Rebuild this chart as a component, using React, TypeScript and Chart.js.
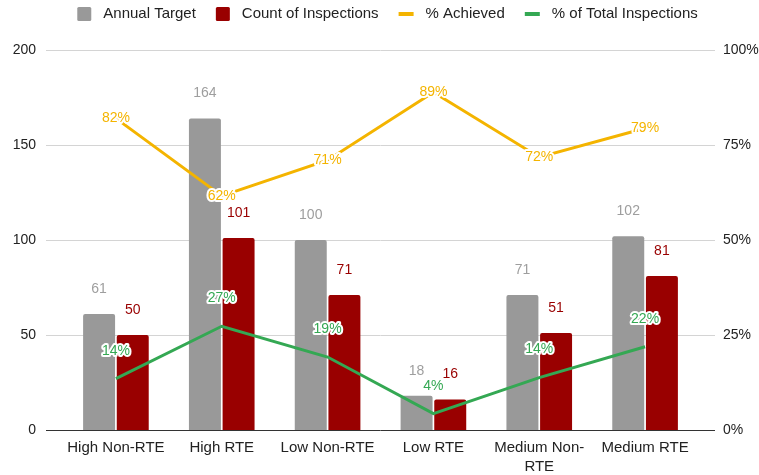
import React, { useEffect, useRef } from 'react';
import { Chart, registerables } from 'chart.js';

Chart.register(...registerables);

const categories: (string | string[])[] = [
  'High Non-RTE',
  'High RTE',
  'Low Non-RTE',
  'Low RTE',
  ['Medium Non-', 'RTE'],
  'Medium RTE',
];
const annualTarget = [61, 164, 100, 18, 71, 102];
const countOfInspections = [50, 101, 71, 16, 51, 81];
const pctAchieved = [82.0, 61.6, 71.0, 88.9, 71.8, 79.4];
const pctOfTotal = [13.5, 27.3, 19.2, 4.3, 13.8, 21.9];
const leftMax = 200;
const leftStep = 50;
const rightMax = 100;
const rightStep = 25;

const FONT = '"Liberation Sans", Arial, sans-serif';
const GRAY = '#999999';
const RED = '#990000';
const YELLOW = '#f4b400';
const GREEN = '#34a853';
const TEXT = '#222222';

const extGridPlugin = {
  id: 'extGrid',
  beforeDatasetsDraw(chart: any) {
    const { ctx, chartArea } = chart;
    const y = chart.scales.y;
    const ext = 17;
    ctx.save();
    y.ticks.forEach((t: any) => {
      const py = Math.round(y.getPixelForValue(t.value)) + 0.5;
      ctx.strokeStyle = t.value === 0 ? '#333333' : '#d4d4d4';
      ctx.lineWidth = 1;
      ctx.beginPath();
      ctx.moveTo(chartArea.left - ext, py);
      ctx.lineTo(chartArea.right + ext, py);
      ctx.stroke();
    });
    ctx.restore();
  },
};

const dataLabelPlugin = {
  id: 'dataLabels',
  afterDatasetsDraw(chart: any) {
    const { ctx } = chart;
    ctx.save();
    ctx.font = `14px ${FONT}`;
    ctx.textAlign = 'center';
    ctx.textBaseline = 'middle';
    chart.data.datasets.forEach((ds: any, i: number) => {
      const meta = chart.getDatasetMeta(i);
      meta.data.forEach((el: any, j: number) => {
        const v = ds.data[j];
        if (ds.type === 'bar') {
          ctx.fillStyle = ds.labelColor;
          ctx.fillText(String(v), el.x, el.y - 25);
        } else {
          const txt = Math.round(v) + '%';
          const ty = el.y + ds.labelOffset;
          ctx.lineWidth = 4;
          ctx.lineJoin = 'round';
          ctx.strokeStyle = '#ffffff';
          ctx.strokeText(txt, el.x, ty);
          ctx.fillStyle = ds.borderColor;
          ctx.fillText(txt, el.x, ty);
        }
      });
    });
    ctx.restore();
  },
};

const legendPlugin = {
  id: 'customLegend',
  afterDraw(chart: any) {
    const { ctx, chartArea } = chart;
    ctx.save();
    ctx.font = `15px ${FONT}`;
    ctx.textBaseline = 'middle';
    ctx.textAlign = 'left';
    const items = chart.data.datasets.map((ds: any) => ({
      label: ds.label,
      color: ds.type === 'bar' ? ds.backgroundColor : ds.borderColor,
      isBar: ds.type === 'bar',
      symW: ds.type === 'bar' ? 14 : 15,
      textW: ctx.measureText(ds.label).width,
    }));
    const symGap = 12;
    const itemGap = 20;
    let total = 0;
    items.forEach((it: any, k: number) => {
      total += it.symW + symGap + it.textW + (k < items.length - 1 ? itemGap : 0);
    });
    const cx = (chartArea.left + chartArea.right) / 2 + 7;
    let x = cx - total / 2;
    const cy = 14;
    items.forEach((it: any) => {
      ctx.fillStyle = it.color;
      if (it.isBar) {
        ctx.beginPath();
        ctx.roundRect(x, cy - 7, 14, 14, 1.5);
        ctx.fill();
      } else {
        ctx.fillRect(x, cy - 2, 15, 4);
      }
      x += it.symW + symGap;
      ctx.fillStyle = TEXT;
      ctx.fillText(it.label, x, cy);
      x += it.textW + itemGap;
    });
    ctx.restore();
  },
};

export default function App() {
  const canvasRef = useRef<HTMLCanvasElement | null>(null);

  useEffect(() => {
    if (!canvasRef.current) return;
    const chart = new Chart(canvasRef.current, {
      type: 'bar',
      data: {
        labels: categories,
        datasets: [
          {
            type: 'bar',
            label: 'Annual Target',
            data: annualTarget,
            backgroundColor: GRAY,
            labelColor: '#9e9e9e',
            borderRadius: { topLeft: 2, topRight: 2, bottomLeft: 0, bottomRight: 0 },
            borderSkipped: 'bottom',
            yAxisID: 'y',
            order: 2,
            categoryPercentage: 0.636,
            barPercentage: 0.95,
          } as any,
          {
            type: 'bar',
            label: 'Count of Inspections',
            data: countOfInspections,
            backgroundColor: RED,
            labelColor: RED,
            borderRadius: { topLeft: 2, topRight: 2, bottomLeft: 0, bottomRight: 0 },
            borderSkipped: 'bottom',
            yAxisID: 'y',
            order: 2,
            categoryPercentage: 0.636,
            barPercentage: 0.95,
          } as any,
          {
            type: 'line',
            label: '% Achieved',
            data: pctAchieved,
            borderColor: YELLOW,
            backgroundColor: YELLOW,
            borderWidth: 3,
            pointRadius: 0,
            tension: 0,
            yAxisID: 'y1',
            order: 1,
            labelOffset: 0,
          } as any,
          {
            type: 'line',
            label: '% of Total Inspections',
            data: pctOfTotal,
            borderColor: GREEN,
            backgroundColor: GREEN,
            borderWidth: 3,
            pointRadius: 0,
            tension: 0,
            yAxisID: 'y1',
            order: 0,
            labelOffset: -28,
          } as any,
        ],
      },
      options: {
        responsive: false,
        animation: false,
        layout: { padding: { top: 50, left: 0, right: 0, bottom: 0 } },
        plugins: {
          legend: { display: false },
          tooltip: { enabled: false },
        },
        scales: {
          x: {
            grid: { display: false, drawTicks: false },
            border: { display: false },
            ticks: {
              color: TEXT,
              font: { family: FONT, size: 15, lineHeight: 1.24 },
              padding: 9,
              maxRotation: 0,
              autoSkip: false,
            },
            afterFit(scale: any) {
              scale.height = 45;
            },
          },
          y: {
            position: 'left',
            min: 0,
            max: leftMax,
            grid: { display: false, drawTicks: false },
            border: { display: false },
            ticks: {
              stepSize: leftStep,
              color: TEXT,
              font: { family: FONT, size: 14 },
              padding: 27,
            },
            afterFit(scale: any) {
              scale.width = 63;
            },
          },
          y1: {
            position: 'right',
            min: 0,
            max: rightMax,
            grid: { display: false, drawTicks: false },
            border: { display: false },
            ticks: {
              stepSize: rightStep,
              color: TEXT,
              font: { family: FONT, size: 14 },
              padding: 25,
              callback: (v: any) => v + '%',
            },
            afterFit(scale: any) {
              scale.width = 61;
            },
          },
        },
      } as any,
      plugins: [extGridPlugin, dataLabelPlugin, legendPlugin],
    });
    return () => chart.destroy();
  }, []);

  return (
    <div style={{ position: 'absolute', left: 0, top: 0, width: 759, height: 475, background: '#ffffff' }}>
      <canvas ref={canvasRef} width={759} height={475} style={{ display: 'block' }} />
    </div>
  );
}
